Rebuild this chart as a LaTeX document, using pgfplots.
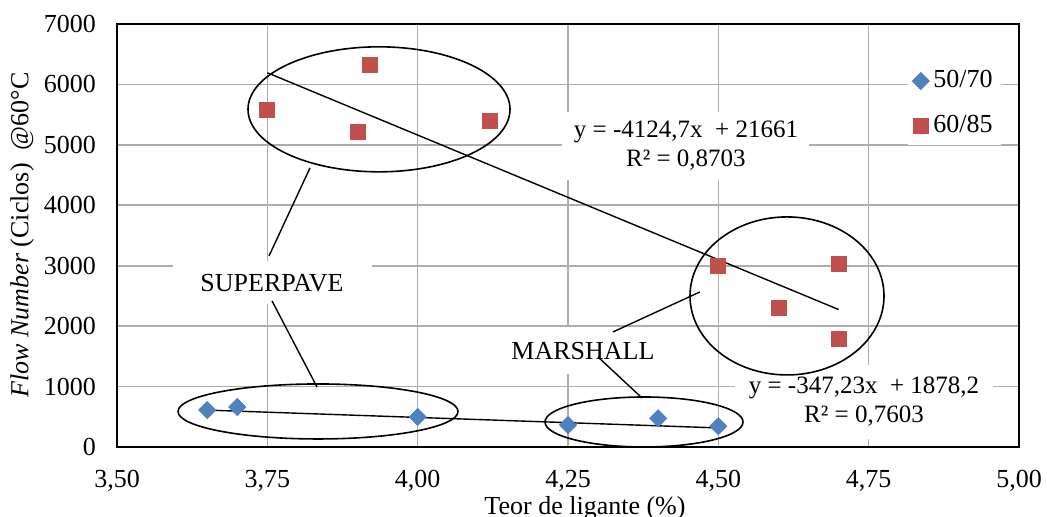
\documentclass[border=0pt]{standalone}
\usepackage{pgfplots}
\pgfplotsset{compat=1.18}
\usepackage{fontspec}
\setmainfont{Liberation Serif}
\definecolor{serA}{RGB}{79,129,189}
\definecolor{serB}{RGB}{192,80,77}
\begin{document}
\fontsize{13}{15.5}\selectfont
\begin{tikzpicture}
\begin{axis}[
  at={(58.5pt,-223.5pt)}, anchor=south west,
  scale only axis, width=451pt, height=211.5pt,
  xmin=3.5, xmax=5, ymin=0, ymax=7000,
  xtick={3.5,3.75,4,4.25,4.5,4.75,5},
  ytick={0,1000,2000,3000,4000,5000,6000,7000},
  grid=major,
  major grid style={draw=black!32, line width=0.8pt},
  axis line style={black, line width=0.9pt},
  tick style={draw=none},
  clip=false,
  /pgf/number format/assume math mode=true,
  ticklabel style={font=\fontsize{13}{15.5}\selectfont},
  xticklabel style={/pgf/number format/use comma, /pgf/number format/fixed, /pgf/number format/fixed zerofill, /pgf/number format/precision=2, yshift=-7pt},
  yticklabel style={/pgf/number format/1000 sep={}, xshift=-6pt},
  legend style={draw=none, fill=white, at={(rel axis cs:0.980,0.91)}, anchor=north east,
     row sep=8pt, font=\fontsize{13}{15.5}\selectfont, inner sep=2pt},
  legend cell align=left,
]
\addplot[only marks, mark=square*, mark size=3pt, mark options={rotate=45, fill=serA, draw=serA}]
  coordinates {(3.65,612) (3.70,662) (4.00,497) (4.25,364) (4.40,475) (4.50,345)};
\addlegendentry{50/70}
\addplot[only marks, mark=square*, mark size=3.75pt, mark options={fill=serB, draw=serB}]
  coordinates {(3.75,5579) (3.90,5215) (3.92,6325) (4.12,5397) (4.50,2997) (4.60,2301) (4.70,3030) (4.70,1788)};
\addlegendentry{60/85}
% trendlines
\addplot[black, line width=0.7pt, forget plot] coordinates {(3.75,6193.1) (4.70,2274.9)};
\addplot[black, line width=0.7pt, forget plot] coordinates {(3.65,610.8) (4.50,315.7)};
% text boxes
\node[fill=white, minimum width=99.5pt, minimum height=21.5pt, inner sep=0pt] at (axis cs:3.7578,2715) {SUPERPAVE};
\node[fill=white, minimum width=97pt, minimum height=23.5pt, inner sep=0pt] at (axis cs:4.2749,1589) {MARSHALL};
\node[fill=white, minimum width=123.5pt, minimum height=34pt, inner sep=0pt, align=center, font=\fontsize{12.5}{14.5}\selectfont] at (axis cs:4.4462,4983) {y = -4124,7x\ \ + 21661\\R² = 0,8703};
\node[fill=white, minimum width=129pt, minimum height=37pt, inner sep=0pt, align=center, font=\fontsize{12.5}{14.5}\selectfont] at (axis cs:4.7422,745) {y = -347,23x\ \ + 1878,2\\R² = 0,7603};
% ellipses
\draw[black, line width=0.8pt] (axis cs:3.9357,5588) ellipse [x radius=65.5pt, y radius=31.25pt];
\draw[black, line width=0.8pt] (axis cs:4.6142,2500) ellipse [x radius=48.5pt, y radius=39.5pt];
\draw[black, line width=0.8pt] (axis cs:3.8343,588) ellipse [x radius=70pt, y radius=13.75pt];
\draw[black, line width=0.8pt] (axis cs:4.3764,414) ellipse [x radius=49.5pt, y radius=12.5pt];
% callout lines
\draw[black, line width=0.7pt] (axis cs:3.7528,3162) -- (axis cs:3.8210,4619);
\draw[black, line width=0.7pt] (axis cs:3.7578,2417) -- (axis cs:3.8326,993);
\draw[black, line width=0.7pt] (axis cs:4.3248,1904) -- (axis cs:4.4695,2566);
\draw[black, line width=0.7pt] (axis cs:4.2999,1490) -- (axis cs:4.3731,811);
\end{axis}
\node[rotate=90] at (11pt,-117.5pt) {\textit{Flow Number} (Ciclos)\ \ @60°C};
\node[anchor=base] at (292.5pt,-257pt) {Teor de ligante (\%)};
\pgfresetboundingbox
\path (0pt,0pt) rectangle (523.5pt,-258.5pt);
\end{tikzpicture}
\end{document}
